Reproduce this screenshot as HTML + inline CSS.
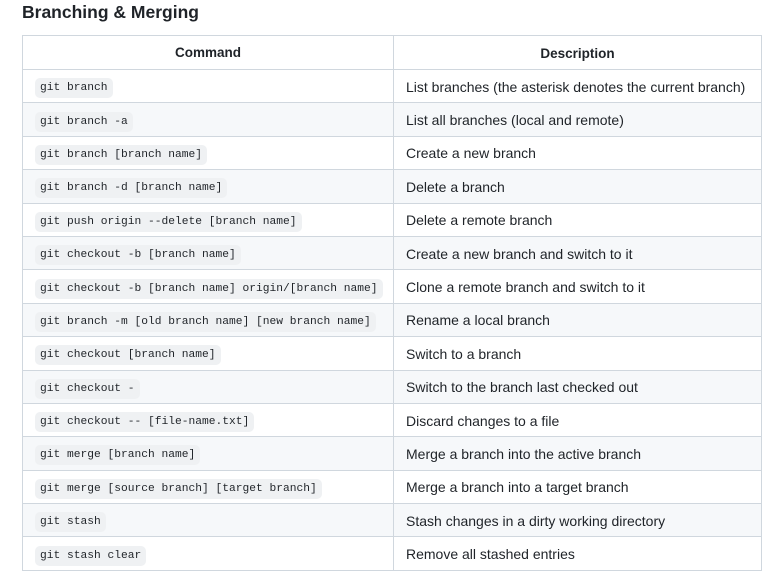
<!DOCTYPE html>
<html><head><meta charset="utf-8"><style>
body{margin:0;width:773px;height:581px;background:#fff;font-family:"Liberation Sans",sans-serif;color:#1f2328;position:relative;overflow:hidden}
h2{position:absolute;left:22px;top:0;margin:0;font-size:17.5px;font-weight:bold;line-height:24px}
.t{position:absolute;left:22px;top:35px;width:738px;border:1px solid #d0d7de;border-bottom:none}
.r{height:32.4px;border-bottom:1px solid #d0d7de;display:flex;font-size:14px}
.r:nth-child(odd){background:#f6f8fa}
.r.h{height:33px;background:#fff;font-weight:bold;font-size:13.5px}
.c1{width:371px;border-right:1px solid #d0d7de;display:flex;align-items:center;padding-left:12px;box-sizing:border-box}
.c2{flex:1;display:flex;align-items:center;padding-left:12px;padding-top:1px}
.h .c1,.h .c2{justify-content:center;padding-left:0}
code{display:inline-block;font-family:"Liberation Mono",monospace;font-size:11.25px;line-height:14px;background:#eff1f3;border-radius:5px;padding:3px 5px;margin-top:4px}
</style></head><body>
<h2>Branching &amp; Merging</h2>
<div class="t">
<div class="r h"><div class="c1">Command</div><div class="c2">Description</div></div>
<div class="r"><div class="c1"><code>git branch</code></div><div class="c2">List branches (the asterisk denotes the current branch)</div></div>
<div class="r"><div class="c1"><code>git branch -a</code></div><div class="c2">List all branches (local and remote)</div></div>
<div class="r"><div class="c1"><code>git branch [branch name]</code></div><div class="c2">Create a new branch</div></div>
<div class="r"><div class="c1"><code>git branch -d [branch name]</code></div><div class="c2">Delete a branch</div></div>
<div class="r"><div class="c1"><code>git push origin --delete [branch name]</code></div><div class="c2">Delete a remote branch</div></div>
<div class="r"><div class="c1"><code>git checkout -b [branch name]</code></div><div class="c2">Create a new branch and switch to it</div></div>
<div class="r"><div class="c1"><code>git checkout -b [branch name] origin/[branch name]</code></div><div class="c2">Clone a remote branch and switch to it</div></div>
<div class="r"><div class="c1"><code>git branch -m [old branch name] [new branch name]</code></div><div class="c2">Rename a local branch</div></div>
<div class="r"><div class="c1"><code>git checkout [branch name]</code></div><div class="c2">Switch to a branch</div></div>
<div class="r"><div class="c1"><code>git checkout -</code></div><div class="c2">Switch to the branch last checked out</div></div>
<div class="r"><div class="c1"><code>git checkout -- [file-name.txt]</code></div><div class="c2">Discard changes to a file</div></div>
<div class="r"><div class="c1"><code>git merge [branch name]</code></div><div class="c2">Merge a branch into the active branch</div></div>
<div class="r"><div class="c1"><code>git merge [source branch] [target branch]</code></div><div class="c2">Merge a branch into a target branch</div></div>
<div class="r"><div class="c1"><code>git stash</code></div><div class="c2">Stash changes in a dirty working directory</div></div>
<div class="r"><div class="c1"><code>git stash clear</code></div><div class="c2">Remove all stashed entries</div></div>
</div>
</body></html>
